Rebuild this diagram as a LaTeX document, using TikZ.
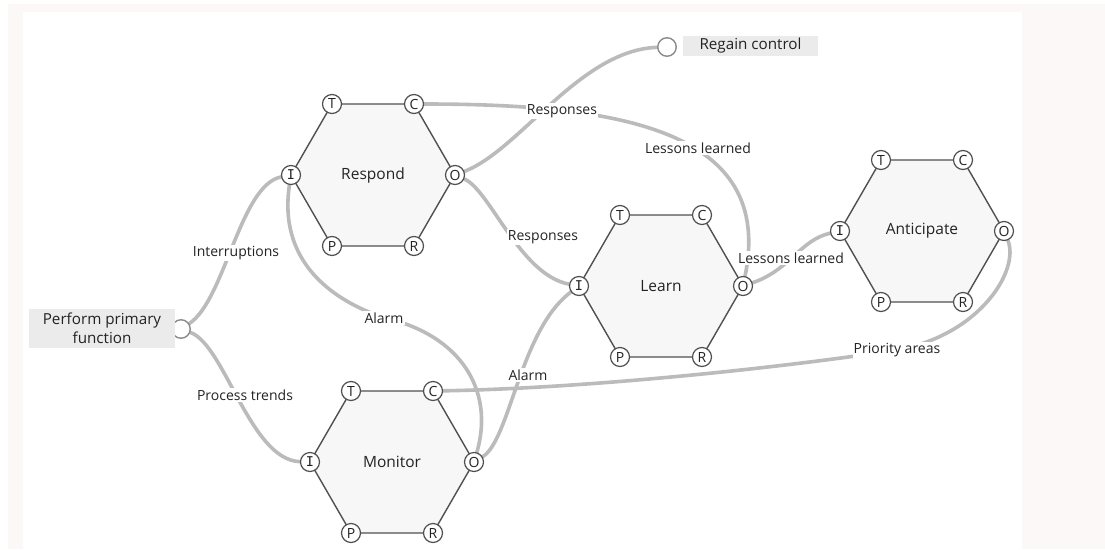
\documentclass[tikz,border=0pt]{standalone}
\usepackage{fontspec}
\setmainfont{Open Sans}
\newfontfamily\slabfont{DejaVu Sans Mono}
\usetikzlibrary{calc}
\pgfdeclarelayer{links}
\pgfsetlayers{links,main}

\definecolor{pagetint}{RGB}{253,248,248}
\definecolor{hexfill}{RGB}{247,247,247}
\definecolor{hexedge}{RGB}{80,80,80}
\definecolor{linkgray}{RGB}{187,187,187}
\definecolor{termfill}{RGB}{235,235,235}
\definecolor{termedge}{RGB}{140,140,140}
\definecolor{inktext}{RGB}{35,35,35}

\tikzset{
  hexbody/.style={fill=hexfill, draw=hexedge, line width=1.4pt, line join=round},
  aspect/.style={circle, draw=hexedge, line width=1.2pt, fill=white,
    minimum size=19pt, inner sep=0pt, text=inktext,
    font=\fontsize{14}{14}\selectfont},
  fntitle/.style={text=inktext, font=\fontsize{15.5}{18}\selectfont},
  termdot/.style={circle, draw=termedge, line width=1.4pt, fill=white,
    minimum size=18.5pt, inner sep=0pt},
  termbox/.style={fill=termfill, text=inktext, inner sep=0pt, align=center,
    font=\fontsize{15.2}{18.5}\selectfont},
  link/.style={draw=linkgray, line width=3.6pt, line cap=round},
  linklabel/.style={fill=white, inner sep=1.2pt, text=inktext,
    font=\fontsize{14}{16}\selectfont},
}

% one FRAM function: hexagon with its six aspect sockets
\newcommand{\framfn}[4]{%
  \path[hexbody] (#2-82,#3) -- (#2-41,#3-71) -- (#2+41,#3-71) -- (#2+82,#3)
    -- (#2+41,#3+71) -- (#2-41,#3+71) -- cycle;
  \node[fntitle] (#1) at (#2,#3) {#4};
  \node[aspect] (#1I) at (#2-82,#3) {\slabfont\fontsize{13.5}{14}\selectfont I};
  \node[aspect] (#1T) at (#2-41,#3-71) {T};
  \node[aspect] (#1C) at (#2+41,#3-71) {C};
  \node[aspect] (#1O) at (#2+82,#3) {O};
  \node[aspect] (#1R) at (#2+41,#3+71) {R};
  \node[aspect] (#1P) at (#2-41,#3+71) {P};
}

\begin{document}
\begin{tikzpicture}[x=1pt, y=-1pt]
  \useasboundingbox (0,0) rectangle (1105,549);
  \begin{pgfonlayer}{links}
    \fill[white] (0,0) rectangle (1105,549);
    \fill[pagetint] (8,4) rectangle (1105,549);
    \fill[white] (23,12) rectangle (1022,549);
  \end{pgfonlayer}

  % functions
  \framfn{Rsp}{373}{175}{Respond}
  \framfn{Mon}{392}{462}{Monitor}
  \framfn{Lrn}{661}{286}{Learn}
  \framfn{Ant}{922}{231}{Anticipate}

  % start and end terminals
  \node[termdot] (ppfo) at (181,329) {};
  \node[termbox, minimum width=146pt, minimum height=39pt] (ppf) at (102,328.5)
    {Perform primary\\function};
  \node[termdot] (rgco) at (667,47) {};
  \node[termbox, minimum width=135pt, minimum height=20pt] (rgc) at (750.5,46)
    {Regain control};

  % junction points of two-part couplings
  \coordinate (alarmmid) at (385,318);
  \coordinate (priomid) at (897,350);

  % couplings
  \begin{pgfonlayer}{links}
    \draw[link] (ppfo) .. controls (225,300) and (240,185) .. (RspI);
    \draw[link] (ppfo) .. controls (225,345) and (250,460) .. (MonI);
    \draw[link] (RspO) .. controls (520,150) and (580,50) .. (rgco);
    \draw[link] (RspC) .. controls (620,104) and (775,130) .. (LrnO);
    \draw[link] (RspO) .. controls (490,190) and (520,275) .. (LrnI);
    \draw[link] (RspI) .. controls (278,260) and (330,300) .. (alarmmid)
      .. controls (460,335) and (495,390) .. (MonO);
    \draw[link] (MonO) .. controls (510,440) and (520,330) .. (LrnI);
    \draw[link] (MonC) .. controls (600,388) and (800,365) .. (priomid)
      .. controls (980,335) and (1020,270) .. (AntO);
    \draw[link] (LrnO) .. controls (790,270) and (800,240) .. (AntI);
  \end{pgfonlayer}

  % coupling labels
  \node[linklabel] (l-int)  at (236,253) {Interruptions};
  \node[linklabel] (l-proc) at (245,395) {Process trends};
  \node[linklabel] (l-resp1) at (562,111) {Responses};
  \node[linklabel] (l-less1) at (698,148) {Lessons learned};
  \node[linklabel] (l-resp2) at (543,237) {Responses};
  \node[linklabel] (l-alarm1) at (384,318) {Alarm};
  \node[linklabel] (l-alarm2) at (528,375) {Alarm};
  \node[linklabel] (l-less2) at (791,258) {Lessons learned};
  \node[linklabel] (l-prio) at (897,350) {Priority areas};
\end{tikzpicture}
\end{document}
